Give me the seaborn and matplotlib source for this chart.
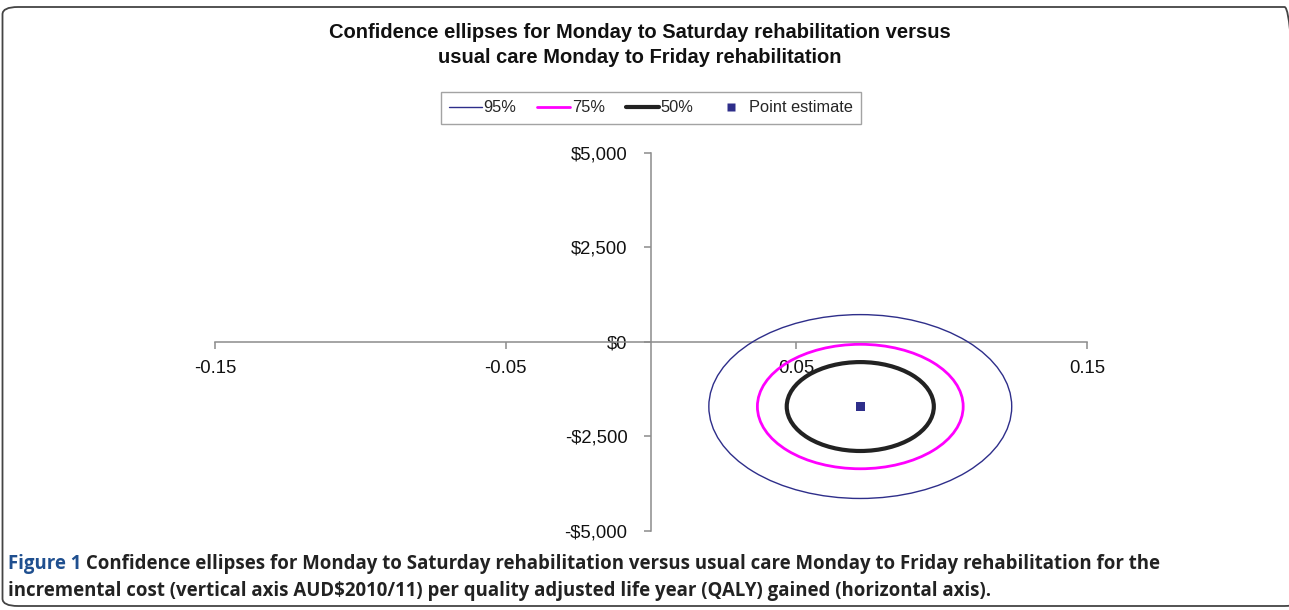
import numpy as np
import pandas as pd
import seaborn as sns
import matplotlib
matplotlib.use("Agg")
import matplotlib.pyplot as plt
from matplotlib.patches import Ellipse, FancyBboxPatch
from matplotlib.lines import Line2D

# ---- data ----
point_qaly = [0.072]
point_cost = [-1710]
levels = ["95%", "75%", "50%"]
half_width_qaly = [0.0521, 0.0354, 0.0253]
half_height_cost = [2430, 1645, 1175]
x_ticks = [-0.15, -0.05, 0.05, 0.15]
x_tick_labels = ["-0.15", "-0.05", "0.05", "0.15"]
y_ticks = [-5000, -2500, 0, 2500, 5000]
y_tick_labels = ["-$5,000", "-$2,500", "$0", "$2,500", "$5,000"]

title = ("Confidence ellipses for Monday to Saturday rehabilitation versus\n"
         "usual care Monday to Friday rehabilitation")
caption_bold = "Figure 1"
caption_line1 = (" Confidence ellipses for Monday to Saturday rehabilitation versus usual care "
                 "Monday to Friday rehabilitation for the")
caption_line2 = ("incremental cost (vertical axis AUD$2010/11) per quality adjusted life year "
                 "(QALY) gained (horizontal axis).")

colors = ["#2e2e8a", "#ff00ff", "#222222"]
widths = [1.0, 2.0, 3.0]

sns.set_theme(style="white")
plt.rcParams["font.family"] = ["Liberation Sans", "DejaVu Sans"]

W, H = 1289, 610
fig = plt.figure(figsize=(W / 100, H / 100), dpi=100)

def fx(px):
    return px / W

def fy(py):
    return 1 - py / H

ax = fig.add_axes([fx(215), fy(531), fx(1087) - fx(215), fy(152.7) - fy(531)])
ax.set_xlim(-0.15, 0.15)
ax.set_ylim(-5000, 5000)

for lvl, w, h, c, lw in zip(levels, half_width_qaly, half_height_cost, colors, widths):
    ax.add_patch(Ellipse((point_qaly[0], point_cost[0]), 2 * w, 2 * h,
                         fill=False, edgecolor=c, linewidth=lw, zorder=3))

df = pd.DataFrame({"qaly": point_qaly, "cost": point_cost})
sns.scatterplot(data=df, x="qaly", y="cost", marker="s", s=38, color="#2e2e8a",
                edgecolor="none", ax=ax, zorder=4)
ax.set_xlabel("")
ax.set_ylabel("")

# centered axes
ax.spines["left"].set_position(("data", 0))
ax.spines["bottom"].set_position(("data", 0))
ax.spines["top"].set_visible(False)
ax.spines["right"].set_visible(False)
for s in ["left", "bottom"]:
    ax.spines[s].set_color("#8c8c8c")
    ax.spines[s].set_linewidth(1.1)

ax.set_xticks(x_ticks)
ax.set_xticklabels(x_tick_labels)
ax.set_yticks(y_ticks)
ax.set_yticklabels(y_tick_labels)
ax.tick_params(axis="x", direction="out", length=5, width=1.1, color="#8c8c8c",
               labelsize=13.3, pad=8, labelcolor="#111111", bottom=True)
ax.tick_params(axis="y", direction="out", length=5, width=1.1, color="#8c8c8c",
               labelsize=13.3, pad=12, labelcolor="#111111", left=True)
for lab in ax.get_xticklabels():
    lab.set_zorder(5)
ax.grid(False)
ax.set_facecolor("none")

# title
fig.text(fx(640), fy(45), title, ha="center", va="center", fontsize=14.5,
         fontweight="bold", color="#111111", linespacing=1.4)

# legend
handles = [Line2D([0], [0], color=c, lw=lw) for c, lw in zip(colors, widths)]
handles.append(Line2D([0], [0], marker="s", color="none", markerfacecolor="#2e2e8a",
                      markeredgecolor="none", markersize=6))
leg = fig.legend(handles, levels + ["Point estimate"], loc="center",
                 bbox_to_anchor=(fx(651), fy(108)), ncol=4, frameon=True,
                 fancybox=False, edgecolor="#8c8c8c", fontsize=11.8,
                 handlelength=2.0, handletextpad=0.1, columnspacing=1.3,
                 borderpad=0.5)
leg.get_frame().set_linewidth(1.0)

# rounded frame around chart
frame = FancyBboxPatch((fx(2.5), fy(606)), fx(1300) - fx(2.5), fy(7) - fy(606),
                       boxstyle="round,pad=0,rounding_size=0.012",
                       transform=fig.transFigure, fill=False,
                       edgecolor="#444444", linewidth=1.3, clip_on=False)
fig.patches.append(frame)

# caption
cap_font = ["Open Sans", "DejaVu Sans"]
cap_size = 13.4
t1 = fig.text(fx(8), fy(564), caption_bold, ha="left", va="center", fontsize=cap_size,
              fontweight="bold", color="#1f4f8f", family=cap_font)
fig.canvas.draw()
bb = t1.get_window_extent()
fig.text(bb.x1 / W, fy(564), caption_line1, ha="left", va="center", fontsize=cap_size,
         fontweight="bold", color="#222222", family=cap_font)
fig.text(fx(8), fy(591), caption_line2, ha="left", va="center", fontsize=cap_size,
         fontweight="bold", color="#222222", family=cap_font)

fig.savefig("out.png", dpi=100, facecolor="white")
